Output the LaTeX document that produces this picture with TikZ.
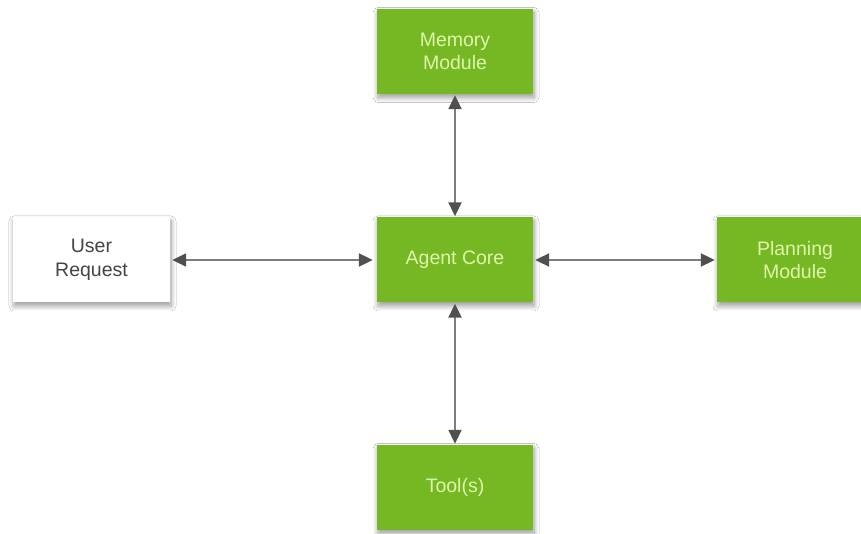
\documentclass[tikz,border=0pt]{standalone}
\usepackage{fontspec}
\setmainfont{Liberation Sans}
\usetikzlibrary{arrows.meta,shadows.blur}

\definecolor{boxgreen}{RGB}{118,184,36}
\definecolor{labelgreen}{RGB}{222,246,170}
\definecolor{linkgray}{RGB}{125,125,125}
\definecolor{tipgray}{RGB}{80,80,80}
\definecolor{usertext}{RGB}{68,68,68}

\tikzset{
  block/.style={minimum width=156pt, minimum height=85pt, inner sep=0pt,
    align=center, font=\fontsize{19.5pt}{23.5pt}\selectfont,
    blur shadow={shadow xshift=1pt, shadow yshift=-3.5pt,
      shadow blur radius=5pt, shadow blur steps=10, shadow opacity=40}},
  greenblock/.style={block, fill=boxgreen, text=labelgreen},
  whiteblock/.style={block, fill=white, text=usertext},
  link/.style={draw=linkgray, line width=2pt,
    {Triangle[length=14pt,width=13pt,color=tipgray,fill=tipgray]}-{Triangle[length=14pt,width=13pt,color=tipgray,fill=tipgray]}}
}

\begin{document}
\begin{tikzpicture}[x=1pt,y=1pt]
  \useasboundingbox (0,0) rectangle (861,534);
  \fill[white] (0,0) rectangle (861,534);

  % hub and its four neighbours
  \node[greenblock] (core)  at (455,274) {Agent Core};
  \node[greenblock] (mem)   at (455,482.5) {Memory\\Module};
  \node[greenblock] (tools) at (455,46.5)  {Tool(s)};
  \node[whiteblock, minimum width=157pt] (user) at (91.5,274) {User\\Request};
  \node[greenblock] (plan)  at (795,274) {Planning\\Module};

  % two-way links from the hub
  \draw[link, shorten <=1pt, shorten >=1pt] (core.north) -- (mem.south);
  \draw[link, shorten <=1pt, shorten >=1pt] (core.south) -- (tools.north);
  \draw[link, shorten <=4pt, shorten >=2pt] (core.west)  -- (user.east);
  \draw[link, shorten <=2pt, shorten >=2pt] (core.east)  -- (plan.west);
\end{tikzpicture}
\end{document}
